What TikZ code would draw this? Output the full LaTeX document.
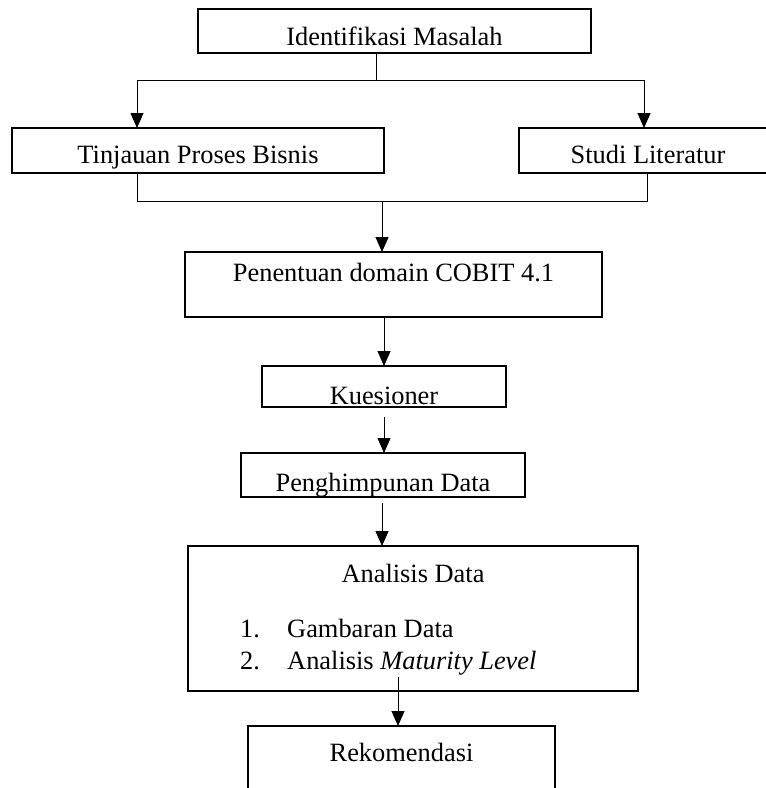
\documentclass[tikz,border=0pt]{standalone}
\usepackage{fontspec}
\setmainfont{Liberation Serif}
\usetikzlibrary{arrows.meta}

\begin{document}
\begin{tikzpicture}[x=1pt, y=-1pt,
    procbox/.style={draw, line width=2pt, inner sep=0pt, outer sep=0pt, anchor=base,
        font=\fontsize{26.4}{30}\selectfont},
    itemtext/.style={inner sep=0pt, anchor=base west, font=\fontsize{26.4}{30}\selectfont},
    flow/.style={line width=1pt},
    flowarrow/.style={line width=1pt, -{Triangle[width=13pt,length=15pt]}}]
    \clip (0,0) rectangle (766,788);
    \fill[white] (0,0) rectangle (766,788);

    % Identifikasi
    \node[procbox, minimum width=393pt, text height=36.5pt, text depth=7.5pt] (ident) at (394.5,45.5) {Identifikasi Masalah};

    % Tinjauan + Studi
    \node[procbox, minimum width=372pt, text height=35.5pt, text depth=9.5pt] (tinj) at (198,163.5) {Tinjauan Proses Bisnis};
    \node[procbox, minimum width=258pt, text height=35.5pt, text depth=9.5pt] (studi) at (648,163.5) {Studi Literatur};

    % COBIT
    \node[procbox, minimum width=417pt, text height=29pt, text depth=36pt] (cobit) at (393.5,281) {Penentuan domain COBIT 4.1};

    % Kuesioner + Penghimpunan
    \node[procbox, minimum width=244pt, text height=38.5pt, text depth=2.5pt] (kues) at (384,404.5) {Kuesioner};
    \node[procbox, minimum width=284pt, text height=38pt, text depth=6pt] (peng) at (383,491) {Penghimpunan Data};

    % Analisis
    \node[procbox, minimum width=450pt, text height=36pt, text depth=109pt] (anal) at (413,582) {Analisis Data};
    \node[itemtext] (item1) at (240,637) {\makebox[47pt][l]{1.}Gambaran Data};
    \node[itemtext] (item2) at (240,669) {\makebox[47pt][l]{2.}Analisis \textit{Maturity Level}};

    % Rekomendasi
    \node[procbox, minimum width=307pt, text height=35pt, text depth=40pt] (rekom) at (401.5,761) {Rekomendasi};

    % Percabangan
    \coordinate (split) at (376,80);
    \coordinate (tl) at (137,80);
    \coordinate (tr) at (644,80);
    \draw[flow] (ident.south -| split) -- (split);
    \draw[flow] (tl) -- (tr);
    \draw[flowarrow] (tl) -- (tl |- tinj.north);
    \draw[flowarrow] (tr) -- (tr |- studi.north);

    % Penggabungan
    \coordinate (ml) at (137,201);
    \coordinate (mr) at (647,201);
    \coordinate (merge) at (382,201);
    \draw[flow] (ml |- tinj.south) -- (ml) -- (mr) -- (mr |- studi.south);
    \draw[flowarrow] (merge) -- (merge |- cobit.north);

    % Alur ke bawah
    \draw[flowarrow] (kues.north |- cobit.south) -- (kues.north);
    \draw[flowarrow] ([yshift=-10pt]kues.south) -- (kues.south |- peng.north);
    \draw[flowarrow] ([xshift=-1pt, yshift=-6pt]peng.south) -- ([xshift=-1pt]peng.south |- anal.north);
    \coordinate (aout) at (398,677);
    \draw[flowarrow] (aout) -- (aout |- rekom.north);
\end{tikzpicture}
\end{document}
